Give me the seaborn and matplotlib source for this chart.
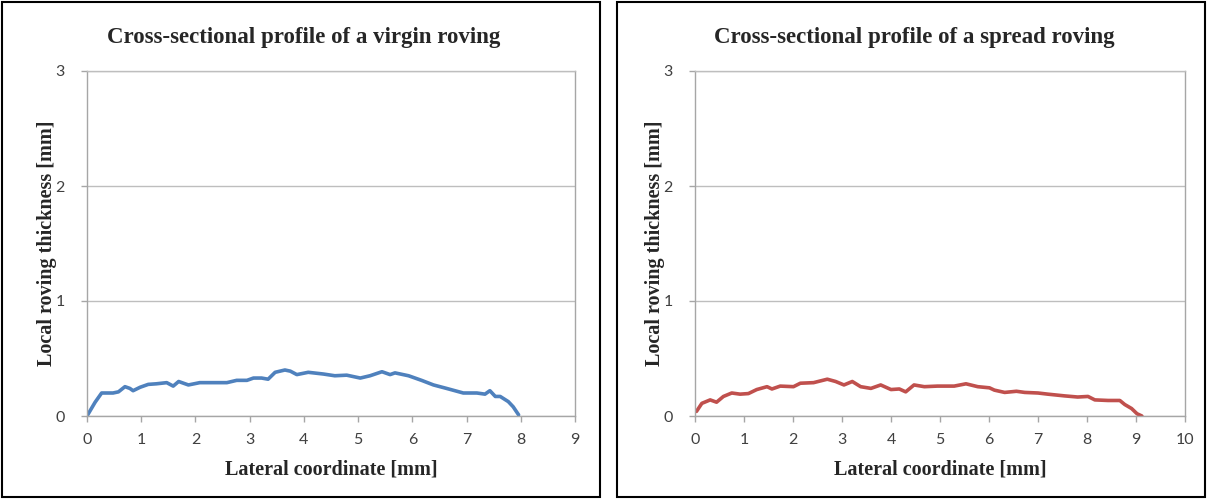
import numpy as np
import pandas as pd
import matplotlib
matplotlib.use('Agg')
import matplotlib.pyplot as plt
import seaborn as sns
from matplotlib.patches import Rectangle

# virgin roving profile
virgin_x = [0.0, 0.15, 0.27, 0.36, 0.48, 0.58, 0.70, 0.79, 0.85, 0.98, 1.13, 1.28, 1.47, 1.59, 1.69,
            1.87, 2.08, 2.33, 2.58, 2.76, 2.95, 3.07, 3.22, 3.34, 3.47, 3.65, 3.75, 3.87, 4.08, 4.36,
            4.57, 4.79, 5.04, 5.22, 5.44, 5.59, 5.68, 5.93, 6.17, 6.39, 6.63, 6.94, 7.19, 7.34, 7.43,
            7.53, 7.62, 7.77, 7.86, 7.96]
virgin_y = [0.0, 0.12, 0.20, 0.20, 0.20, 0.21, 0.255, 0.24, 0.22, 0.25, 0.275, 0.28, 0.29, 0.26, 0.30,
            0.27, 0.29, 0.29, 0.29, 0.31, 0.31, 0.33, 0.33, 0.32, 0.38, 0.40, 0.39, 0.36, 0.38, 0.365,
            0.35, 0.355, 0.33, 0.35, 0.385, 0.36, 0.375, 0.35, 0.31, 0.27, 0.24, 0.20, 0.20, 0.19, 0.22,
            0.17, 0.17, 0.125, 0.08, 0.01]

# spread roving profile
spread_x = [0.03, 0.14, 0.31, 0.44, 0.58, 0.75, 0.92, 1.09, 1.26, 1.47, 1.57, 1.74, 2.01, 2.15, 2.42,
            2.70, 2.87, 3.04, 3.21, 3.38, 3.59, 3.79, 4.00, 4.17, 4.30, 4.47, 4.68, 4.95, 5.29, 5.53,
            5.77, 6.01, 6.11, 6.32, 6.56, 6.73, 7.00, 7.20, 7.54, 7.81, 8.02, 8.16, 8.43, 8.67, 8.77,
            8.91, 9.02, 9.12]
spread_y = [0.04, 0.11, 0.14, 0.12, 0.17, 0.20, 0.19, 0.195, 0.23, 0.255, 0.235, 0.26, 0.255, 0.285, 0.29,
            0.32, 0.30, 0.27, 0.30, 0.255, 0.24, 0.27, 0.23, 0.235, 0.21, 0.27, 0.255, 0.26, 0.26, 0.28,
            0.255, 0.245, 0.225, 0.205, 0.215, 0.205, 0.20, 0.19, 0.175, 0.165, 0.17, 0.14, 0.135, 0.135, 0.10,
            0.065, 0.02, 0.0]

titles = ['Cross-sectional profile of a virgin roving', 'Cross-sectional profile of a spread roving']
xlims = [9, 10]

sns.set_style('white')
plt.rcParams['font.family'] = ['Lato', 'DejaVu Sans']

fig = plt.figure(figsize=(12.07, 4.99), dpi=100)
W, H = 1207.0, 499.0

# outer panel frames
panels = [(2, 600), (617, 1205)]
for x0, x1 in panels:
    fig.patches.append(Rectangle((x0 / W, 2 / H), (x1 - x0) / W, 495 / H, transform=fig.transFigure,
                                 fill=False, edgecolor='black', linewidth=1.5))

ax1 = fig.add_axes([87 / W, (H - 416) / H, 488 / W, 345 / H])
ax2 = fig.add_axes([695 / W, (H - 416) / H, 490 / W, 345 / H])

data = [(virgin_x, virgin_y, '#4F81BD'), (spread_x, spread_y, '#C0504D')]
for ax, (xs, ys, c), title, xl, (p0, p1) in zip([ax1, ax2], data, titles, xlims, panels):
    df = pd.DataFrame({'x': xs, 'y': ys})
    sns.lineplot(data=df, x='x', y='y', ax=ax, color=c, linewidth=2.6, estimator=None, sort=False)
    ax.set_xlim(0, xl)
    ax.set_ylim(0, 3)
    ax.set_xticks(range(0, xl + 1))
    ax.set_yticks([0, 1, 2, 3])
    ax.yaxis.grid(True, color='#BEBEBE', linewidth=1)
    ax.set_axisbelow(True)
    for s in ax.spines.values():
        s.set_color('#A6A6A6')
        s.set_linewidth(1)
    ax.spines['top'].set_color('#BEBEBE')
    ax.tick_params(axis='both', direction='out', length=4, width=1, color='#A6A6A6',
                   labelsize=11.5, labelcolor='#404040', bottom=True, left=True)
    ax.tick_params(axis='x', pad=8)
    ax.tick_params(axis='y', pad=12)
    ax.set_xlabel('Lateral coordinate [mm]', family='Liberation Serif', fontweight='bold',
                  fontsize=14.5, labelpad=9)
    ax.set_ylabel('Local roving thickness [mm]', family='Liberation Serif', fontweight='bold',
                  fontsize=14.5, labelpad=-1)
    fig.text((p0 + p1) / 2 / W + 3 / W, 1 - 38 / H, title, family='Liberation Serif', fontweight='bold',
             fontsize=16.5, ha='center', va='center')

fig.savefig('out.png', dpi=100)
